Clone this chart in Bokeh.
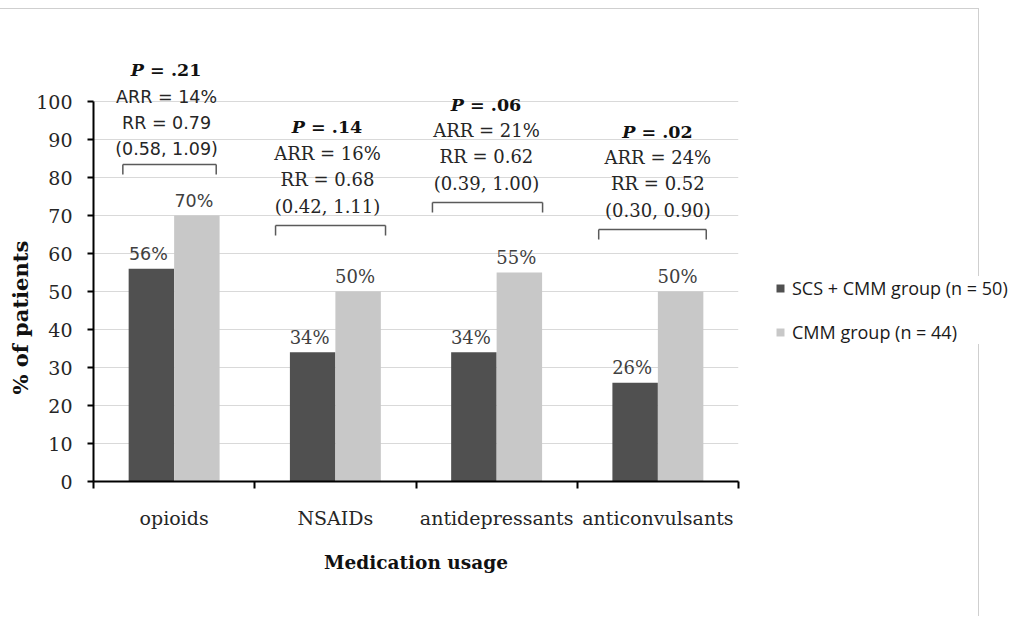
from bokeh.plotting import figure
from bokeh.models import Range1d, FixedTicker, Legend, LegendItem, CustomJSTickFormatter, Title
from bokeh.core.properties import value
from bokeh.embed import file_html
from bokeh.resources import INLINE

# ---------------- data ----------------
categories = ["opioids", "NSAIDs", "antidepressants", "anticonvulsants"]
scs_cmm = [56, 34, 34, 26]
cmm = [70, 50, 55, 50]
series_names = ["SCS + CMM group (n = 50)", "CMM group (n = 44)"]
p_values = ["= .21", "= .14", "= .06", "= .02"]
arr_text = ["ARR = 14%", "ARR = 16%", "ARR = 21%", "ARR = 24%"]
rr_text = ["RR = 0.79", "RR = 0.68", "RR = 0.62", "RR = 0.52"]
ci_text = ["(0.58, 1.09)", "(0.42, 1.11)", "(0.39, 1.00)", "(0.30, 0.90)"]
y_ticks = list(range(0, 101, 10))

# ---------------- layout / style ----------------
FRAME_W, FRAME_H = 645, 456
Y_MAX = 120
PX_Y = Y_MAX / FRAME_H        # data units per pixel (y)
PX_X = 4 / FRAME_W            # data units per pixel (x)
DARK, LIGHT = "#505050", "#c8c8c8"
TXT = "#262626"
SERIF, SANS = "DejaVu Serif", "DejaVu Sans"
group_fonts = [SANS, SERIF, SERIF, SERIF]
group_sizes = ["17.5px", "18px", "18px", "18px"]
bracket_level = [83.4, 67.4, 73.4, 66.3]
bracket_left = [-0.318, -0.371, -0.398, -0.367]
bracket_right = [0.261, 0.311, 0.285, 0.300]
text_dx = [-0.047, -0.049, -0.063, 0.0]
line_offsets = [(16, 42, 68, 95), (19, 46, 72, 98), (19, 46, 72, 98), (19, 46, 72, 98)]
BAR_W = 0.282

p = figure(frame_width=FRAME_W, frame_height=FRAME_H,
           x_range=Range1d(0, 4), y_range=Range1d(0, Y_MAX),
           output_backend="svg", toolbar_location=None,
           min_border_left=93, min_border_right=272,
           min_border_top=25, min_border_bottom=135)
p.outline_line_color = None
p.background_fill_color = "white"
p.border_fill_color = None
# faint page-border lines seen at the top and right of the original image
p.styles = {"background": "linear-gradient(#cfcfcf,#cfcfcf) 0 8px / 979px 1px no-repeat, "
                          "linear-gradient(#cfcfcf,#cfcfcf) 978px 8px / 1px 100% no-repeat"}

# bars
xc = [i + 0.5 for i in range(len(categories))]
r1 = p.vbar(x=[x - BAR_W / 2 for x in xc], top=scs_cmm, width=BAR_W,
            fill_color=DARK, line_color=None)
r2 = p.vbar(x=[x + BAR_W / 2 for x in xc], top=cmm, width=BAR_W,
            fill_color=LIGHT, line_color=None)

# value labels
for i in range(len(categories)):
    for xv, yv in ((xc[i] - BAR_W / 2, scs_cmm[i]), (xc[i] + BAR_W / 2, cmm[i])):
        p.text(x=[xv - 3 * PX_X], y=[yv + 15 * PX_Y], text=[f"{yv}%"],
               text_align="center", text_baseline="alphabetic",
               text_font=value(group_fonts[i]), text_font_size=group_sizes[i],
               text_color="#404040")

# annotations (P, ARR, RR, CI and bracket)
PSIZE = 17.5
for i in range(len(categories)):
    lvl = bracket_level[i]
    cx = xc[i] + text_dx[i]
    x0 = xc[i] + bracket_left[i]
    x1 = xc[i] + bracket_right[i]
    leg = 10 * PX_Y
    p.segment(x0=[x0, x0, x1], y0=[lvl, lvl, lvl], x1=[x1, x0, x1],
              y1=[lvl, lvl - leg, lvl - leg], line_color="#5a5a5a", line_width=1.5)
    o_ci, o_rr, o_arr, o_p = line_offsets[i]
    for txt, off in ((ci_text[i], o_ci), (rr_text[i], o_rr), (arr_text[i], o_arr)):
        p.text(x=[cx], y=[lvl + off * PX_Y], text=[txt], text_align="center",
               text_baseline="alphabetic", text_font=value(group_fonts[i]),
               text_font_size=group_sizes[i], text_color=TXT)
    total_w = (0.733 + 3.306) * PSIZE
    split = -total_w / 2 + 0.733 * PSIZE
    yb = lvl + o_p * PX_Y
    p.text(x=[cx + split * PX_X], y=[yb], text=["P"], text_align="right",
           text_baseline="alphabetic", text_font=value(SERIF),
           text_font_size=f"{PSIZE}px", text_font_style="bold italic", text_color="#111111")
    p.text(x=[cx + (split + 0.348 * PSIZE) * PX_X], y=[yb], text=[p_values[i]],
           text_align="left", text_baseline="alphabetic", text_font=value(SERIF),
           text_font_size=f"{PSIZE}px", text_font_style="bold", text_color="#111111")

# y axis
ya = p.yaxis[0]
ya.ticker = FixedTicker(ticks=y_ticks, minor_ticks=[])
ya.bounds = (0, 100)
ya.axis_line_color = "black"
ya.axis_line_width = 2
ya.major_tick_line_color = "black"
ya.major_tick_line_width = 2
ya.major_tick_out = 6
ya.major_tick_in = 0
ya.minor_tick_line_color = None
ya.major_label_standoff = 15
ya.major_label_text_font = SERIF
ya.major_label_text_font_size = "19px"
ya.major_label_text_color = TXT

# y axis title (off-centre as in the original)
p.add_layout(Title(text="% of patients", align="left", offset=87, standoff=2,
                   text_font=SERIF, text_font_size="21px", text_font_style="bold",
                   text_color="#111111"), "left")

# x axis: ticks at category boundaries, labels at centres
xa = p.xaxis[0]
xa.ticker = FixedTicker(ticks=xc, minor_ticks=list(range(len(categories) + 1)))
xa.formatter = CustomJSTickFormatter(args=dict(labels=categories),
                                     code="return labels[Math.floor(tick)];")
xa.axis_line_color = "black"
xa.axis_line_width = 2
xa.major_tick_line_color = None
xa.major_tick_out = 0
xa.major_tick_in = 0
xa.minor_tick_line_color = "black"
xa.minor_tick_line_width = 2
xa.minor_tick_out = 7
xa.minor_tick_in = 0
xa.major_label_standoff = 18
xa.major_label_text_font = SERIF
xa.major_label_text_font_size = "19px"
xa.major_label_text_color = TXT
xa.axis_label = "Medication usage"
xa.axis_label_text_font = SERIF
xa.axis_label_text_font_size = "18.5px"
xa.axis_label_text_font_style = "bold"
xa.axis_label_text_color = "#111111"
xa.axis_label_standoff = 20

# grid
p.xgrid.visible = False
p.ygrid.grid_line_color = "#d9d9d9"
p.ygrid.grid_line_width = 1

# legend
legend = Legend(items=[LegendItem(label=series_names[0], renderers=[r1]),
                       LegendItem(label=series_names[1], renderers=[r2])],
                location=(37, 137), orientation="vertical",
                glyph_width=10, glyph_height=10, label_height=20, spacing=20,
                label_standoff=7, padding=4, margin=0,
                border_line_color=None, background_fill_color="white",
                background_fill_alpha=1,
                label_text_font="Open Sans", label_text_font_size="18px",
                label_text_color="#1a1a1a")
p.add_layout(legend, "right")

open("out.html", "w").write(file_html(p, INLINE))
